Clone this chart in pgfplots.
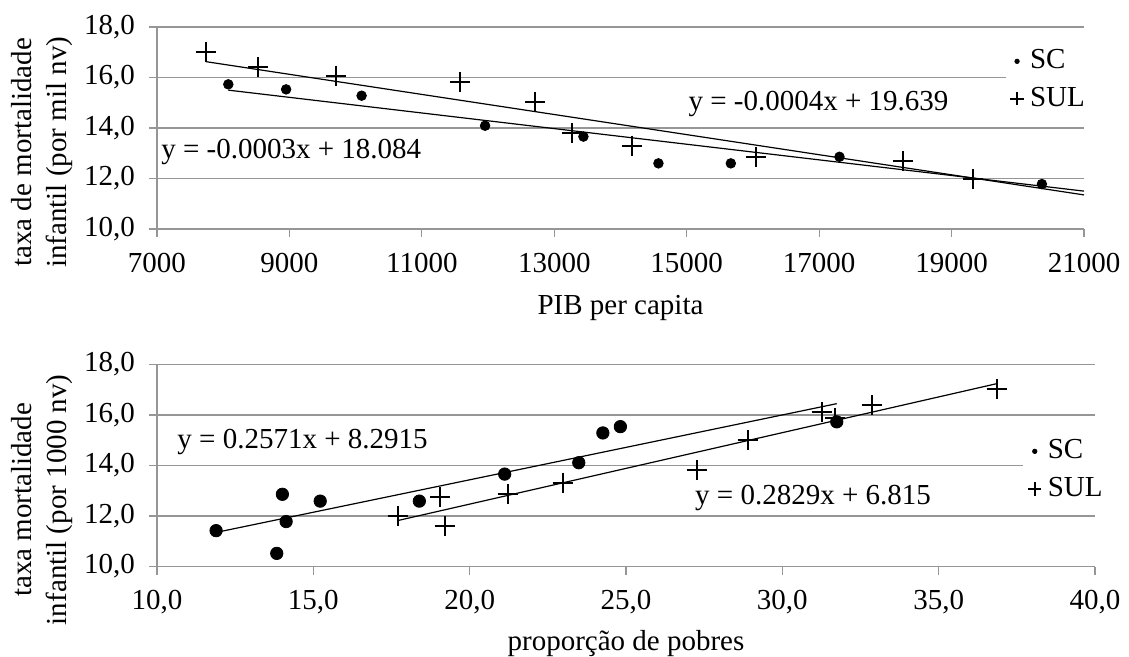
\documentclass[border=0pt]{standalone}
\usepackage{fontspec}
\setmainfont{Liberation Serif}
\usepackage{pgfplots}
\usepackage{pgfplotstable}
\pgfplotsset{compat=1.18}

\definecolor{gridc}{RGB}{150,150,150}

% PIB per capita x taxa
\pgfplotstableread{
x y
8077 15.73
8950 15.53
10090 15.28
11955 14.09
13440 13.66
14573 12.60
15666 12.60
17307 12.86
20364 11.78
}\scpib
\pgfplotstableread{
x y
7735 17.02
8530 16.40
9700 16.07
11580 15.83
12705 15.03
13260 13.81
14170 13.30
16040 12.86
18264 12.70
19330 11.98
}\sulpib
% proporcao de pobres x taxa
\pgfplotstableread{
x y
11.89 11.42
13.83 10.52
14.01 12.86
14.13 11.78
15.22 12.59
18.39 12.59
21.12 13.66
23.49 14.11
24.26 15.29
24.82 15.54
31.74 15.73
}\scpob
\pgfplotstableread{
x y
17.70 12.00
19.05 12.74
19.21 11.62
21.21 12.88
22.97 13.31
27.26 13.82
28.89 15.02
31.26 16.10
31.70 15.88
32.88 16.40
36.85 17.02
}\sulpob

\pgfplotsset{
  onedec/.style={/pgf/number format/fixed, /pgf/number format/fixed zerofill,
    /pgf/number format/precision=1, /pgf/number format/use comma,
    /pgf/number format/assume math mode=true},
  panel/.style={
    scale only axis, height=101pt,
    ymin=10, ymax=18, ytick={10,12,...,18},
    ymajorgrids, grid style={draw=gridc, line width=0.6pt},
    axis x line*=bottom, axis y line*=left,
    axis line style={draw=gridc, line width=0.6pt, -},
    tick style={draw=gridc, line width=0.6pt},
    tick align=outside, major tick length=4pt,
    yticklabel style={onedec, xshift=-2pt},
    xticklabel style={yshift=-3pt},
    ylabel style={align=center, font=\fontsize{14.5}{17.5}\selectfont},
    ylabel shift=-4pt,
    legend cell align=left,
    legend style={draw=none, fill=white, row sep=3pt, inner sep=2pt},
  },
  scdot/.style={legend image code/.code={\path[draw=none, fill=none] (-3pt,-1pt) rectangle (4.5pt,1pt); \fill[black] (0pt,0pt) circle (1.1pt);}},
  sulplus/.style={legend image code/.code={\path[draw=none, fill=none] (-3.3pt,-1pt) rectangle (4.5pt,1pt); \draw[black, line width=0.9pt] (-3.3pt,0pt) -- (3.3pt,0pt) (0pt,-3.3pt) -- (0pt,3.3pt);}},
}

\begin{document}
\fontsize{14.5}{18}\selectfont
\begin{tikzpicture}[font=\fontsize{14.5}{18}\selectfont]
\path[use as bounding box] (0,0) rectangle (564.5pt,-328.5pt);

\begin{axis}[panel,
  at={(78.5pt,-114.5pt)}, anchor=south west, width=463.5pt,
  xmin=7000, xmax=21000, xtick={7000,9000,...,21000},
  scaled x ticks=false,
  xticklabel style={/pgf/number format/1000 sep={}, /pgf/number format/assume math mode=true},
  xlabel={PIB per capita}, xlabel style={yshift=-1.5pt},
  ylabel={taxa de mortalidade\\infantil (por mil nv)},
  ylabel style={at={(ticklabel cs:0.38)}},
  legend style={at={(1.010,0.93)}, anchor=north east},
]
\addplot[only marks, mark=*, mark size=2.4pt, black, scdot] table {\scpib};
\addlegendentry{SC}
\addplot[only marks, mark=+, mark size=5pt, line width=1pt, black, sulplus] table {\sulpib};
\addlegendentry{SUL}
\addplot[black, line width=0.6pt, forget plot] coordinates {(8077,15.50) (21000,11.50)};
\addplot[black, line width=0.6pt, forget plot] coordinates {(7735,16.63) (21000,11.35)};
\node[anchor=west, inner sep=0pt] at (axis cs:7060,13.05) {y = -0.0003x + 18.084};
\node[anchor=west, inner sep=0pt] at (axis cs:15021,14.95) {y = -0.0004x + 19.639};
\end{axis}

\begin{axis}[panel,
  at={(78.5pt,-283.25pt)}, anchor=south west, width=469pt,
  xmin=10, xmax=40, xtick={10,15,...,40},
  xticklabel style={onedec},
  xlabel={proporção de pobres}, xlabel style={yshift=2pt},
  ylabel={taxa mortalidade\\infantil (por 1000 nv)},
  ylabel style={at={(ticklabel cs:0.33)}},
  legend style={at={(1.017,0.67)}, anchor=north east},
]
\addplot[only marks, mark=*, mark size=3.1pt, black, scdot] table {\scpob};
\addlegendentry{SC}
\addplot[only marks, mark=+, mark size=5pt, line width=1pt, black, sulplus] table {\sulpob};
\addlegendentry{SUL}
\addplot[black, line width=0.6pt, forget plot] coordinates {(11.89,11.35) (31.74,16.45)};
\addplot[black, line width=0.6pt, forget plot] coordinates {(17.70,11.82) (36.85,17.24)};
\node[anchor=west, inner sep=0pt] at (axis cs:10.64,14.93) {y = 0.2571x + 8.2915};
\node[anchor=west, inner sep=0pt] at (axis cs:27.2,12.71) {y = 0.2829x + 6.815};
\end{axis}
\end{tikzpicture}
\end{document}
